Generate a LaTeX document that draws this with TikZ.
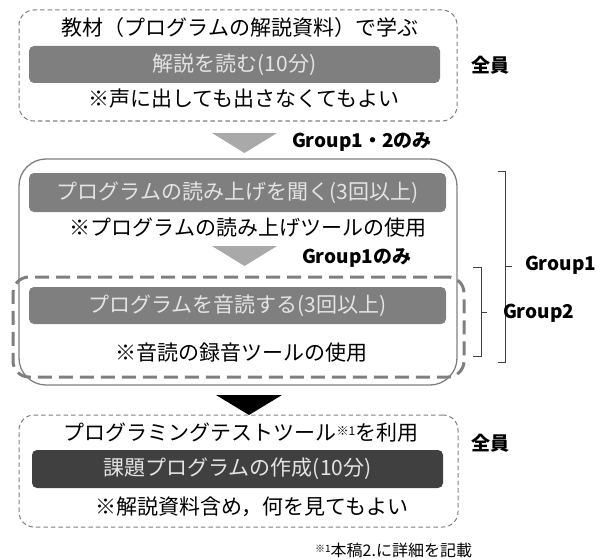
\documentclass[tikz,border=0pt]{standalone}
\usepackage{fontspec}
\setmainfont{Noto Sans CJK JP}
\begin{document}
\begin{tikzpicture}[x=1pt,y=-1pt,
  every node/.style={inner sep=0pt,outer sep=0pt},
  dashbox/.style={draw=boxgray,line width=1pt,dash pattern=on 4.5pt off 3pt,rounded corners=15pt},
  solidbox/.style={draw=boxgray,line width=1.3pt,rounded corners=27pt},
  grpbox/.style={draw=boxgray,line width=3pt,dash pattern=on 14pt off 7pt,rounded corners=16pt},
  bar/.style={fill=bargray,rounded corners=5pt},
  darkbar/.style={fill=bardark,rounded corners=5pt},
  bartext/.style={text=barfont,font=\fontsize{21}{24}\selectfont},
  plain/.style={text=black,font=\fontsize{21}{24}\selectfont},
  lbl/.style={text=black,font=\fontsize{19}{22}\selectfont\bfseries},
  brk/.style={draw=brkgray,line width=0.9pt},
  tri/.style={fill=trigray,draw=none},
]
\definecolor{boxgray}{HTML}{7F7F7F}
\definecolor{bargray}{HTML}{7F7F7F}
\definecolor{bardark}{HTML}{404040}
\definecolor{barfont}{HTML}{E4E4E4}
\definecolor{brkgray}{HTML}{404040}
\definecolor{trigray}{HTML}{A9A9A9}
\useasboundingbox (0,0) rectangle (607,559);

% ---- box 1
\node[dashbox,minimum width=438pt,minimum height=111pt] (box1) at (238,65.5) {};
\node[plain] (t1) at (240,28) {教材（プログラムの解説資料）で学ぶ};
\node[bar,minimum width=411pt,minimum height=37pt] (bar1) at (234.5,64.5) {};
\node[bartext] (b1) at (bar1.center) {解説を読む(10分)};
\node[plain] (n1) at (244,99) {※声に出しても出さなくてもよい};
\node[lbl,anchor=center] (all1) at (490,65) {全員};

% ---- arrow 1
\coordinate (a1l) at (212,133);
\coordinate (a1r) at (277,133);
\coordinate (a1b) at (244.5,153);
\fill[tri] (a1l) -- (a1r) -- (a1b) -- cycle;
\node[lbl,anchor=west] (g12) at (292,142) {Group1・2のみ};

% ---- box 2
\node[solidbox,minimum width=438pt,minimum height=226pt] (box2) at (238,272) {};
\node[bar,minimum width=417pt,minimum height=39pt] (bar2) at (237.5,192.5) {};
\node[bartext] (b2) at (bar2.center) {プログラムの読み上げを聞く(3回以上)};
\node[plain] (n2) at (248,228) {※プログラムの読み上げツールの使用};

% ---- arrow 2
\coordinate (a2l) at (212,246);
\coordinate (a2r) at (277,246);
\coordinate (a2b) at (244.5,266);
\fill[tri] (a2l) -- (a2r) -- (a2b) -- cycle;
\node[lbl,anchor=west] (g1) at (302,258) {Group1のみ};

% ---- group 2 dashed box
\node[grpbox,minimum width=451pt,minimum height=100pt] (box3) at (238.5,327) {};
\node[bar,minimum width=417pt,minimum height=37pt] (bar3) at (237.5,305.5) {};
\node[bartext] (b3) at (bar3.center) {プログラムを音読する(3回以上)};
\node[plain] (n3) at (241,353) {※音読の録音ツールの使用};

% ---- brackets
\coordinate (k1a) at (498,171);
\coordinate (k1b) at (505,171);
\coordinate (k1c) at (505,362);
\coordinate (k1d) at (498,362);
\coordinate (k1m) at (505,266);
\coordinate (k1n) at (512,266);
\draw[brk] (k1a) -- (k1b) -- (k1c) -- (k1d);
\draw[brk] (k1m) -- (k1n);
\node[lbl,anchor=west] (grp1) at (525,265) {Group1};

\coordinate (k2a) at (473,267);
\coordinate (k2b) at (481,267);
\coordinate (k2c) at (481,356);
\coordinate (k2d) at (473,356);
\coordinate (k2m) at (481,312);
\coordinate (k2n) at (487,312);
\draw[brk] (k2a) -- (k2b) -- (k2c) -- (k2d);
\draw[brk] (k2m) -- (k2n);
\node[lbl,anchor=west] (grp2) at (503,313) {Group2};

% ---- arrow 3
\coordinate (a3l) at (216,395);
\coordinate (a3r) at (282,395);
\coordinate (a3b) at (249,415);
\fill[black] (a3l) -- (a3r) -- (a3b) -- cycle;

% ---- box 4
\node[dashbox,minimum width=439pt,minimum height=112pt] (box4) at (238.5,471) {};
\node[plain] (t4) at (241,433) {プログラミングテストツール\raisebox{5pt}{\fontsize{12}{12}\selectfont ※1}を利用};
\node[darkbar,minimum width=411pt,minimum height=38pt] (bar4) at (237.5,469) {};
\node[bartext] (b4) at (bar4.center) {課題プログラムの作成(10分)};
\node[plain] (n4) at (252,507) {※解説資料含め，何を見てもよい};
\node[lbl,anchor=center] (all2) at (490,443) {全員};

% ---- footnote
\node[anchor=east,font=\fontsize{16}{18}\selectfont] (fn) at (472,550) {\raisebox{4pt}{\fontsize{10}{10}\selectfont ※1}本稿2.に詳細を記載};
\end{tikzpicture}
\end{document}
